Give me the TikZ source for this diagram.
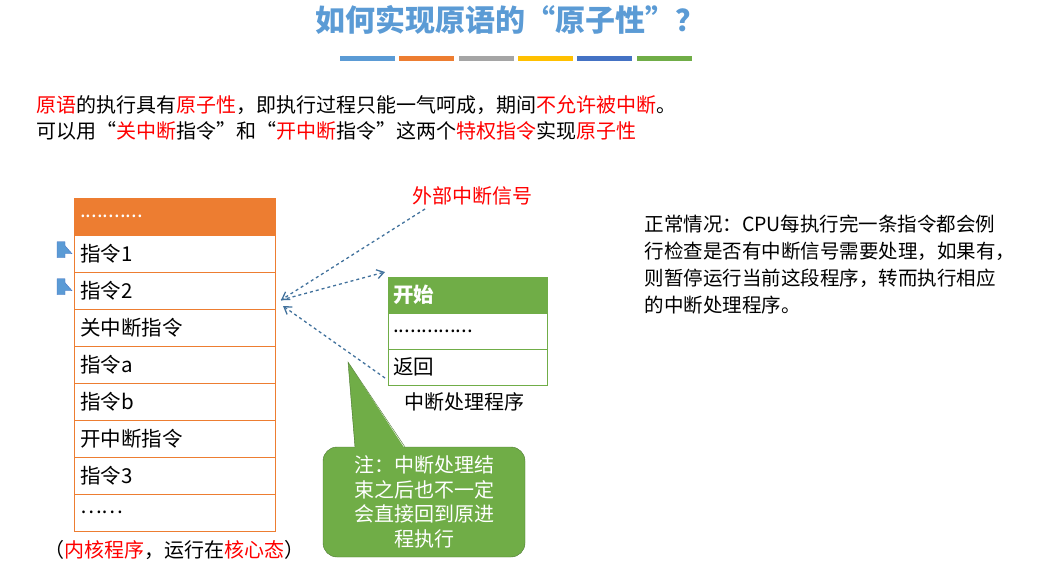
\documentclass[tikz,border=0pt]{standalone}
\usepackage{fontspec}
\setmainfont{Noto Sans CJK SC}
\usetikzlibrary{arrows.meta}
\definecolor{tblue}{HTML}{5B9BD5}
\definecolor{torange}{HTML}{ED7D31}
\definecolor{tgray}{HTML}{A5A5A5}
\definecolor{tyellow}{HTML}{FFC000}
\definecolor{tdblue}{HTML}{4472C4}
\definecolor{tgreen}{HTML}{70AD47}
\definecolor{dashc}{HTML}{41719C}
\newcommand{\rd}[1]{\textcolor{red}{#1}}
\begin{document}
\begin{tikzpicture}[x=1pt,y=-1pt,font=\fontsize{20}{24}\selectfont,
  cell/.style={draw=torange,minimum width=201pt,minimum height=37pt,anchor=north west,text width=189pt,inner sep=0pt,align=left,font=\fontsize{20.5}{24}\selectfont},
  gcell/.style={draw=tgreen,minimum width=159pt,minimum height=36pt,anchor=north west,text width=149pt,inner sep=0pt,align=left,font=\fontsize{20.5}{24}\selectfont},
  dar/.style={draw=dashc,dashed,line width=1.3pt,-{Straight Barb[length=7pt,width=9pt]}},
  barrow/.style={draw=tdblue,fill=tblue},
  bar/.style={line width=5pt}]
\useasboundingbox (0,0) rectangle (1056,582);
\node[font=\fontsize{30}{34}\selectfont\bfseries,text=tblue] (title) at (510,20) {如何实现原语的“原子性”？};
\foreach \a/\c in {340/tblue,399/torange,459/tgray,518/tyellow,577/tdblue,637/tgreen}
  \draw[bar,\c] (\a,58) -- ++(55,0);
\node[anchor=west] (l1) at (33,105) {\rd{原语}的执行具有\rd{原子性}，即执行过程只能一气呵成，期间\rd{不允许被中断}。};
\node[anchor=west] (l2) at (33,131) {可以用“\rd{关中断}指令”和“\rd{开中断}指令”这两个\rd{特权指令}实现\rd{原子性}};
% program
\node[cell,fill=torange,text=white] (h) at (74,198) {...........};
\node[cell] (r1) at (74,235) {指令1};
\node[cell] (r2) at (74,272) {指令2};
\node[cell] (r3) at (74,309) {关中断指令};
\node[cell] (r4) at (74,346) {指令a};
\node[cell] (r5) at (74,383) {指令b};
\node[cell] (r6) at (74,420) {开中断指令};
\node[cell] (r7) at (74,457) {指令3};
\node[cell] (r8) at (74,494) {……};
\node (kl) at (174,550) {（\rd{内核程序}，运行在\rd{核心态}）};
\foreach \r in {r1,r2}
  \draw[barrow] ([xshift=-17pt,yshift=-4pt]\r.west) -- ++(8,0) -- ++(0,-4) -- ([xshift=-2pt]\r.west) -- ([xshift=-9pt,yshift=8pt]\r.west) -- ++(0,-4) -- ++(-8,0) -- cycle;
% handler
\node[gcell,fill=tgreen,text=white,font=\fontsize{20.5}{24}\selectfont\bfseries] (g1) at (388,277) {开始};
\node[gcell] (g2) at (388,313) {..............};
\node[gcell] (g3) at (388,349) {返回};
\node (gl) at (464,402) {中断处理程序};
\node[text=red] (ext) at (472,196) {外部中断信号};
\coordinate (p) at (281,300);
\coordinate (e) at (425,209);
\coordinate (gs) at (385,272);
\draw[dar] (e) -- (p);
\draw[dar] (p) -- (gs);
\coordinate (ret) at (385,378);
\draw[dar] (ret) -- (283,306);
% callout
\draw[draw=tgreen!70!black,fill=tgreen,rounded corners=14pt] (323,447) rectangle (525,557);
\fill[tgreen] (348,362) -- (405,449) -- (355,449) -- cycle;
\draw[tgreen!70!black] (355,447) -- (348,362) -- (405,447);
\node[text=white,align=center,font=\fontsize{20}{24.5}\selectfont] (note) at (424,502) {注：中断处理结\\束之后也不一定\\会直接回到原进\\程执行};
\node[anchor=north west,align=left,font=\fontsize{19.5}{27}\selectfont] (rt) at (641,211) {正常情况：CPU每执行完一条指令都会例\\行检查是否有中断信号需要处理，如果有，\\则暂停运行当前这段程序，转而执行相应\\的中断处理程序。};
\end{tikzpicture}
\end{document}
